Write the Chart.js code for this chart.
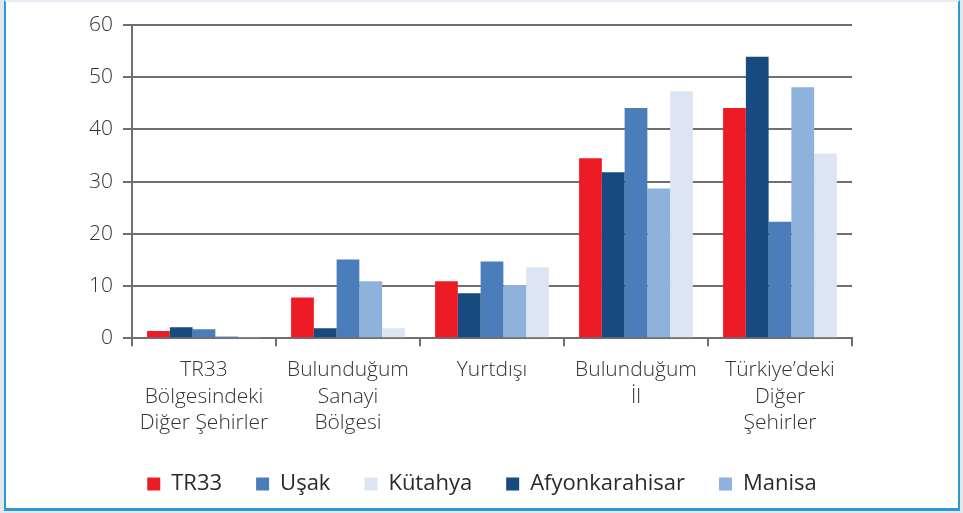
<!DOCTYPE html>
<html>
<head>
<meta charset="utf-8">
<script src="https://cdn.jsdelivr.net/npm/chart.js@4/dist/chart.umd.min.js"></script>
<style>
  html, body { margin: 0; padding: 0; background: #e4e7ea; }
  #frame {
    position: absolute; left: 4px; top: 0;
    width: 952px; height: 506px;
    background: #fff;
    border-left: 2px solid #2b9ad2;
    border-right: 2px solid #2b9ad2;
    border-bottom: 3px solid #2b9ad2;
    border-top: 2px solid #e6eff8;
  }
  canvas { display: block; }
</style>
</head>
<body>
<div id="frame"><canvas id="canvas" width="952" height="506"></canvas></div>
<script>
// categories (x axis)
var categories = [
    ['TR33', 'Bölgesindeki', 'Diğer Şehirler'],
    ['Bulunduğum', 'Sanayi', 'Bölgesi'],
    'Yurtdışı',
    ['Bulunduğum', 'İl'],
    ['Türkiye’deki', 'Diğer', 'Şehirler']
];

// series values, in the order the bars stand in each group
var tr33 = [1.4, 7.8, 10.9, 34.5, 44.1];
var afyonkarahisar = [2.1, 1.9, 8.6, 31.8, 53.9];
var usak = [1.7, 15.1, 14.7, 44.1, 22.3];
var manisa = [0.4, 10.9, 10.2, 28.7, 48.1];
var kutahya = [0.3, 1.9, 13.6, 47.3, 35.4];

// order of the legend entries
var legendOrder = ['TR33', 'Uşak', 'Kütahya', 'Afyonkarahisar', 'Manisa'];

// y axis ticks
var yTicks = [0, 10, 20, 30, 40, 50, 60];

var textColor = '#333';
var gridColor = '#6f6f6f';

// legend is centred on the whole canvas, not on the padded area
var centerLegend = {
    id: 'centerLegend',
    afterLayout: function(chart) {
        var l = chart.legend;
        l.right = chart.width - l.left;
        l.width = l.right - l.left;
    }
};

var ctx = document.getElementById('canvas').getContext('2d');
var myChart = new Chart(ctx, {
    type: 'bar',
    data: {
        labels: categories,
        datasets: [
            { label: 'TR33', data: tr33, backgroundColor: '#ed1c24' },
            { label: 'Afyonkarahisar', data: afyonkarahisar, backgroundColor: '#174a7e' },
            { label: 'Uşak', data: usak, backgroundColor: '#4a7ebb' },
            { label: 'Manisa', data: manisa, backgroundColor: '#8fb2dc' },
            { label: 'Kütahya', data: kutahya, backgroundColor: '#dce6f2' }
        ]
    },
    plugins: [centerLegend],
    options: {
        responsive: false,
        animation: false,
        datasets: {
            bar: {
                categoryPercentage: 0.79,
                barPercentage: 1,
                borderWidth: 0
            }
        },
        layout: {
            padding: { left: 73, right: 106, top: 23, bottom: 3 }
        },
        plugins: {
            tooltip: { enabled: false },
            legend: {
                position: 'bottom',
                labels: {
                    boxWidth: 13,
                    boxHeight: 13,
                    padding: 34,
                    color: '#2a2a2a',
                    font: { family: '"Open Sans"', size: 22, weight: 500 },
                    sort: function(a, b) {
                        return legendOrder.indexOf(a.text) - legendOrder.indexOf(b.text);
                    }
                }
            }
        },
        scales: {
            x: {
                afterFit: function(scale) {
                    scale.height -= 8;
                },
                grid: {
                    drawOnChartArea: false,
                    color: gridColor,
                    lineWidth: 2,
                    tickLength: 8,
                    offset: true
                },
                border: { color: gridColor, width: 2 },
                ticks: {
                    color: textColor,
                    padding: 11,
                    maxRotation: 0,
                    font: { family: '"Open Sans"', size: 21, weight: 300, lineHeight: 1.25 }
                }
            },
            y: {
                min: 0,
                max: 60,
                afterBuildTicks: function(axis) {
                    axis.ticks = yTicks.map(function(v) { return { value: v }; });
                },
                grid: {
                    color: gridColor,
                    lineWidth: 2,
                    tickLength: 9
                },
                border: { color: gridColor, width: 2 },
                ticks: {
                    color: textColor,
                    padding: 10,
                    font: { family: '"Open Sans"', size: 21, weight: 300 }
                }
            }
        }
    }
});
</script>
</body>
</html>
